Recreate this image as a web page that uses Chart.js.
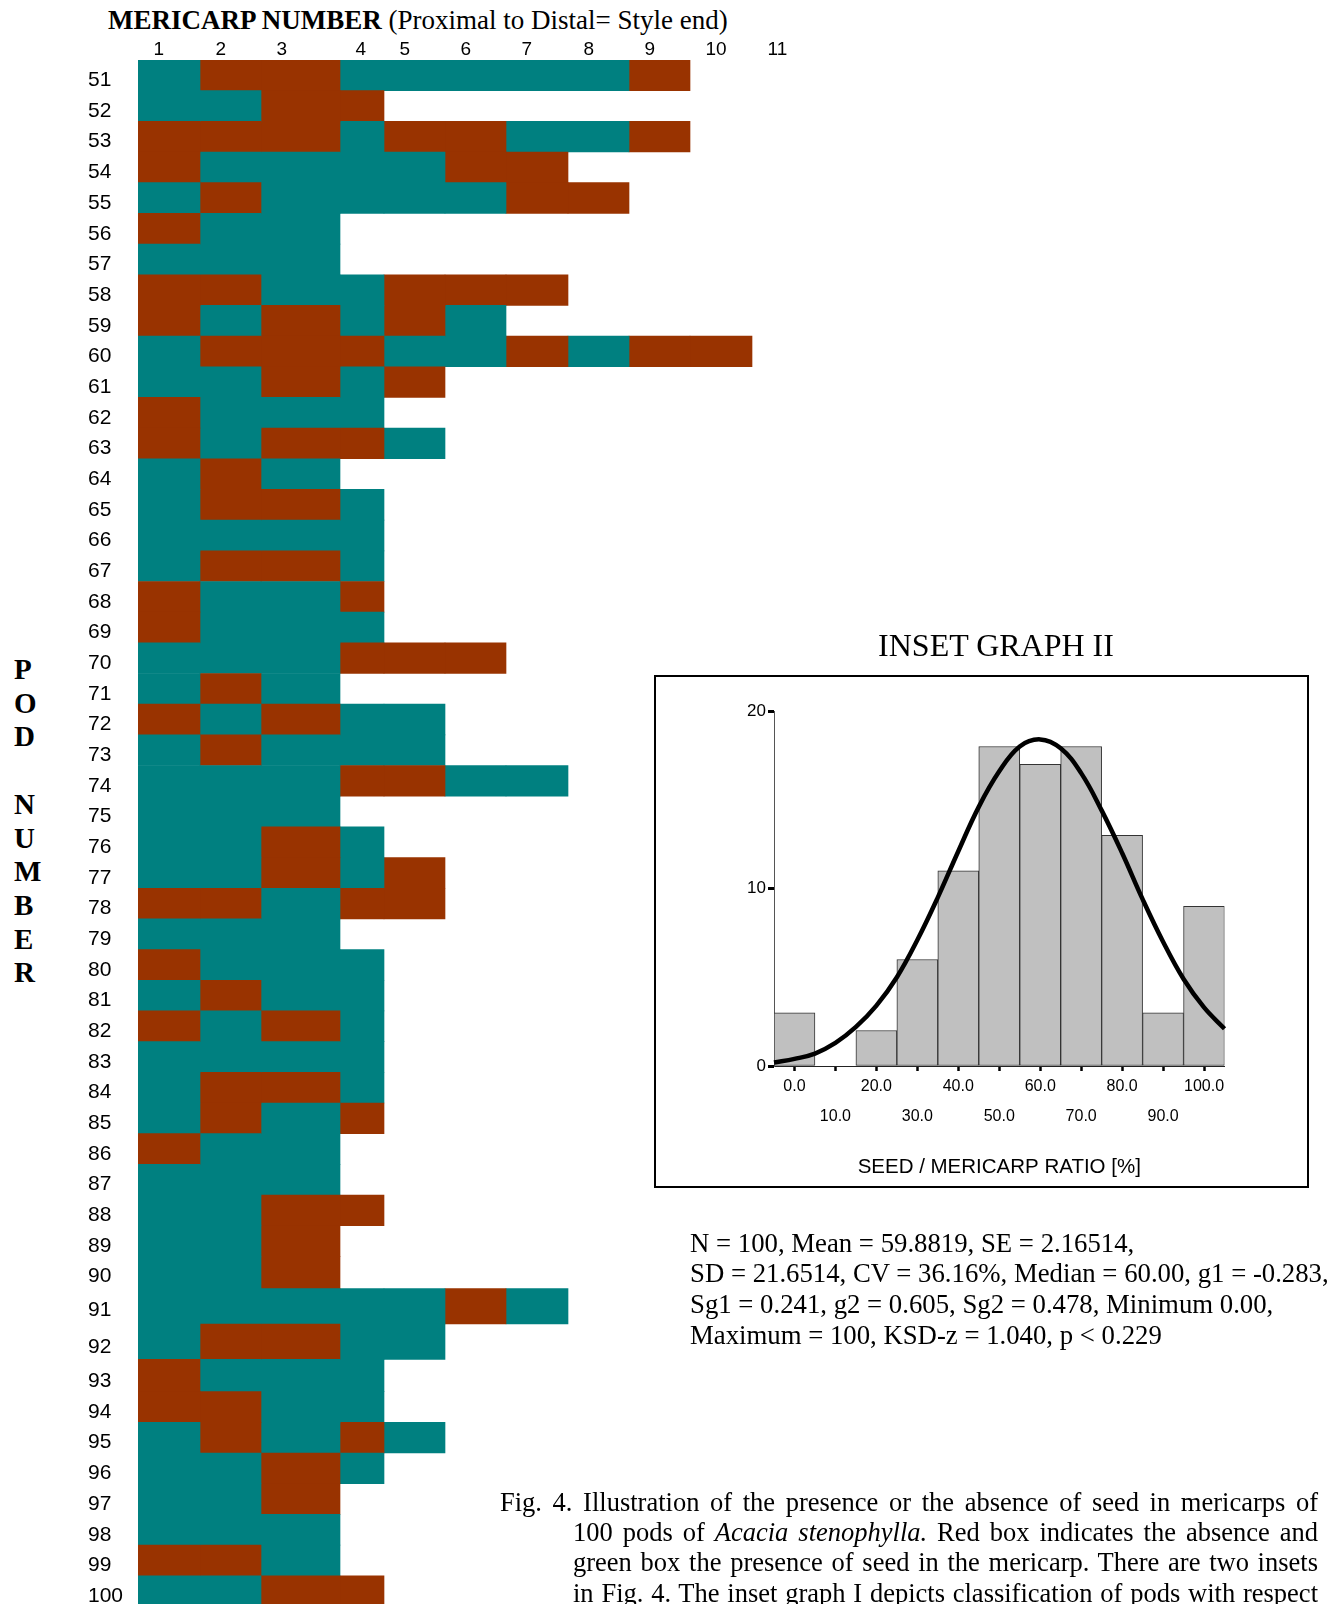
<!DOCTYPE html>
<html lang="en">
<head>
<meta charset="utf-8">
<title>Seed presence in mericarps of Acacia stenophylla pods</title>
<script src="https://cdn.jsdelivr.net/npm/chart.js@4.4.1/dist/chart.umd.min.js"></script>
<style>
  html, body { margin: 0; padding: 0; background: #fff; }
  body { position: relative; width: 1340px; height: 1604px; overflow: hidden; }
  .txt { position: absolute; white-space: nowrap; color: #000;
         font-family: "Liberation Serif", "Times New Roman", serif; }
  #podGrid { position: absolute; left: 0; top: 0; }
  #insetBox { position: absolute; left: 654px; top: 675px; width: 655px; height: 513px;
              box-sizing: border-box; border: 2px solid #000; }
  #insetChart { position: absolute; left: 0; top: 0; }
  .cap-line { text-align: justify; text-align-last: justify; }
</style>
</head>
<body>

<div class="txt" style="left:108px; top:7px; font-size:27px; line-height:27px;"><b>MERICARP NUMBER</b> (Proximal to Distal= Style end)</div>

<div class="txt" style="left:14px; top:653px; font-size:29px; line-height:33.7px; font-weight:bold;">P<br>O<br>D<br><br>N<br>U<br>M<br>B<br>E<br>R</div>

<canvas id="podGrid" width="820" height="1620"></canvas>

<div class="txt" style="left:796px; width:400px; text-align:center; top:629px; font-size:32px; line-height:32px;">INSET GRAPH II</div>

<div id="insetBox"><canvas id="insetChart" width="651" height="509"></canvas></div>

<div class="txt" style="left:690px; top:1227.5px; font-size:26.75px; line-height:30.7px;">N = 100, Mean = 59.8819, SE = 2.16514,<br>SD = 21.6514, CV = 36.16%, Median = 60.00, g1 = -0.283,<br>Sg1 = 0.241, g2 = 0.605, Sg2 = 0.478, Minimum 0.00,<br>Maximum = 100, KSD-z = 1.040, p &lt; 0.229</div>

<div class="txt" style="left:500px; top:1486.5px; width:818px; white-space:normal; font-size:26.5px; line-height:30.4px;">
  <div class="cap-line">Fig. 4. Illustration of the presence or the absence of seed in mericarps of</div>
  <div class="cap-line" style="margin-left:73px;">100 pods of <i>Acacia stenophylla.</i> Red box indicates the absence and</div>
  <div class="cap-line" style="margin-left:73px;">green box the presence of seed in the mericarp. There are two insets</div>
  <div class="cap-line" style="margin-left:73px;">in Fig. 4. The inset graph I depicts classification of pods with respect</div>
</div>

<script>
// ---------------- data ----------------
const podNumbers = [
  51, 52, 53, 54, 55, 56, 57, 58, 59, 60,
  61, 62, 63, 64, 65, 66, 67, 68, 69, 70,
  71, 72, 73, 74, 75, 76, 77, 78, 79, 80,
  81, 82, 83, 84, 85, 86, 87, 88, 89, 90,
  91, 92, 93, 94, 95, 96, 97, 98, 99, 100
];
const mericarpNumbers = [1, 2, 3, 4, 5, 6, 7, 8, 9, 10, 11];

// Seed state of each mericarp, proximal to distal: S = seed present, N = no seed
const seedRows = [
  "SNNSSSSSN", "SSNN", "NNNSNNSSN", "NSSSSNN", "SNSSSSNN",
  "NSS", "SSS", "NNSSNNN", "NSNSNS", "SNNNSSNSNN",
  "SSNSN", "NSSS", "NSNNS", "SNS", "SNNS",
  "SSSS", "SNNS", "NSSN", "NSSS", "SSSNNN",
  "SNS", "NSNSS", "SNSSS", "SSSNNSS", "SSS",
  "SSNS", "SSNSN", "NNSNN", "SSS", "NSSS",
  "SNSS", "NSNS", "SSSS", "SNNS", "SNSN",
  "NSS", "SSS", "SSNN", "SSN", "SSN",
  "SSSSSNS", "SNNSS", "NSSS", "NNSS", "SNSNS",
  "SSNS", "SSN", "SSS", "NNS", "SSNN"
];

// Inset graph II: pods per seed/mericarp ratio class (%)
const ratioBins = [0, 10, 20, 30, 40, 50, 60, 70, 80, 90, 100];
const podsPerBin = [3, 0, 2, 6, 11, 18, 17, 18, 13, 3, 9];

// Fitted normal curve drawn over the histogram
const curveRatio = [-5, 0, 5, 10, 15, 20, 25, 30, 35, 40, 45, 50, 55, 60, 65, 70, 75, 80, 85, 90, 95, 100, 105];
const curvePods  = [0.2, 0.4, 0.7, 1.3, 2.2, 3.4, 5.0, 7.1, 9.5, 12.1, 14.6, 16.6, 18.0, 18.4, 17.9, 16.5, 14.4, 12.0, 9.4, 7.0, 4.9, 3.3, 2.1];

const countTicks = [0, 10, 20];

// ---------------- layout ----------------
// widths of the mericarp columns and relative heights of the pod rows in the table
const columnSpan = [62, 61, 79, 44, 61, 61, 62, 61, 61, 62, 61];
const tallPods = [91, 92];
const rowSpan = podNumbers.map(p => tallPods.includes(p) ? 1.206 : 1);

const SEED = '#008080';
const EMPTY = '#993300';
const SANS = '"Liberation Sans", Arial, sans-serif';

const colEdges = [0];
columnSpan.forEach(w => colEdges.push(colEdges[colEdges.length - 1] + w));
const rowEdges = [0];
rowSpan.forEach(h => rowEdges.push(rowEdges[rowEdges.length - 1] + h));
const rowMid = podNumbers.map((_, i) => (rowEdges[i] + rowEdges[i + 1]) / 2);

// one dataset per mericarp position; each pod contributes one cell to it
const longestPod = Math.max(...seedRows.map(r => r.length));
const gridSets = [];
for (let k = 0; k < longestPod; k++) {
  gridSets.push({
    label: 'Mericarp ' + mericarpNumbers[k],
    stack: 'pod',
    data: seedRows.map((row, i) => ({
      y: rowMid[i],
      x: k < row.length ? [colEdges[k], colEdges[k + 1]] : null
    })),
    backgroundColor: seedRows.map(row => row[k] === 'S' ? SEED : EMPTY),
    borderWidth: 0,
    barThickness: 'flex',
    barPercentage: 1,
    categoryPercentage: 1
  });
}

new Chart(document.getElementById('podGrid'), {
  type: 'bar',
  data: { datasets: gridSets },
  options: {
    indexAxis: 'y',
    responsive: false,
    animation: false,
    events: [],
    layout: { padding: { left: 88, top: 0, right: 7, bottom: 13.6 } },
    plugins: { legend: { display: false }, tooltip: { enabled: false } },
    scales: {
      x: {
        type: 'linear', position: 'top', stacked: false, offset: false,
        min: 0, max: colEdges[colEdges.length - 1],
        afterBuildTicks: s => { s.ticks = mericarpNumbers.map((n, i) => ({ value: colEdges[i] })); },
        afterFit: s => { s.height = 60; },
        ticks: {
          autoSkip: false, maxRotation: 0, align: 'start', labelOffset: 15.5, padding: -1,
          color: '#000', font: { family: SANS, size: 19 },
          callback: (v, i) => String(mericarpNumbers[i])
        },
        grid: { display: false, drawTicks: false },
        border: { display: false }
      },
      y: {
        type: 'linear', reverse: true, offset: false,
        min: 0, max: rowEdges[rowEdges.length - 1],
        afterBuildTicks: s => { s.ticks = rowMid.map(v => ({ value: v })); },
        afterFit: s => { s.width = 50; },
        ticks: {
          autoSkip: false, crossAlign: 'far', padding: 0, labelOffset: 5,
          color: '#000', font: { family: SANS, size: 21 },
          callback: (v, i) => String(podNumbers[i])
        },
        grid: { display: false, drawTicks: false, offset: false },
        border: { display: false }
      }
    }
  }
});

// ---------------- inset graph II ----------------
new Chart(document.getElementById('insetChart'), {
  type: 'bar',
  data: {
    datasets: [
      {
        type: 'line',
        label: 'Normal curve',
        data: curveRatio.map((x, i) => ({ x, y: curvePods[i] })),
        borderColor: '#000', borderWidth: 4.5, pointRadius: 0,
        tension: 0.4, fill: false, clip: false, order: 0
      },
      {
        type: 'bar',
        label: 'Pods',
        data: ratioBins.map((x, i) => ({ x, y: podsPerBin[i] })),
        backgroundColor: '#c0c0c0', borderColor: '#333', borderWidth: 1, borderSkipped: false,
        barPercentage: 1, categoryPercentage: 1, order: 1
      }
    ]
  },
  options: {
    responsive: false,
    animation: false,
    events: [],
    layout: { padding: { left: 68, top: 34, right: 82.5, bottom: 2 } },
    plugins: { legend: { display: false }, tooltip: { enabled: false } },
    scales: {
      x: {
        type: 'linear', min: -5, max: 105, offset: false,
        afterBuildTicks: s => { s.ticks = ratioBins.map(v => ({ value: v })); },
        afterFit: s => { s.height = 118; },
        ticks: {
          autoSkip: false, maxRotation: 0, padding: 0.5, color: '#000',
          font: { family: SANS, size: 16 , lineHeight: '30px' },
          callback: (v, i) => i % 2 === 0 ? ratioBins[i].toFixed(1) : ['', ratioBins[i].toFixed(1)]
        },
        grid: { drawOnChartArea: false, offset: false, drawTicks: true, tickLength: 5, tickWidth: 2.5, tickColor: '#000' },
        border: { display: true, color: '#222', width: 1 },
        title: {
          display: true, text: 'SEED / MERICARP RATIO [%]', color: '#000',
          font: { family: SANS, size: 20.5 }, padding: { top: 4, bottom: 4 }
        }
      },
      y: {
        type: 'linear', min: countTicks[0], max: countTicks[countTicks.length - 1],
        afterBuildTicks: s => { s.ticks = countTicks.map(v => ({ value: v })); },
        afterFit: s => { s.width = 50; },
        ticks: { padding: 2, color: '#000', font: { family: SANS, size: 17 } },
        grid: { drawOnChartArea: false, drawTicks: true, tickLength: 6, tickWidth: 3, tickColor: '#000' },
        border: { display: true, color: '#555', width: 1 }
      }
    }
  }
});
</script>
</body>
</html>
